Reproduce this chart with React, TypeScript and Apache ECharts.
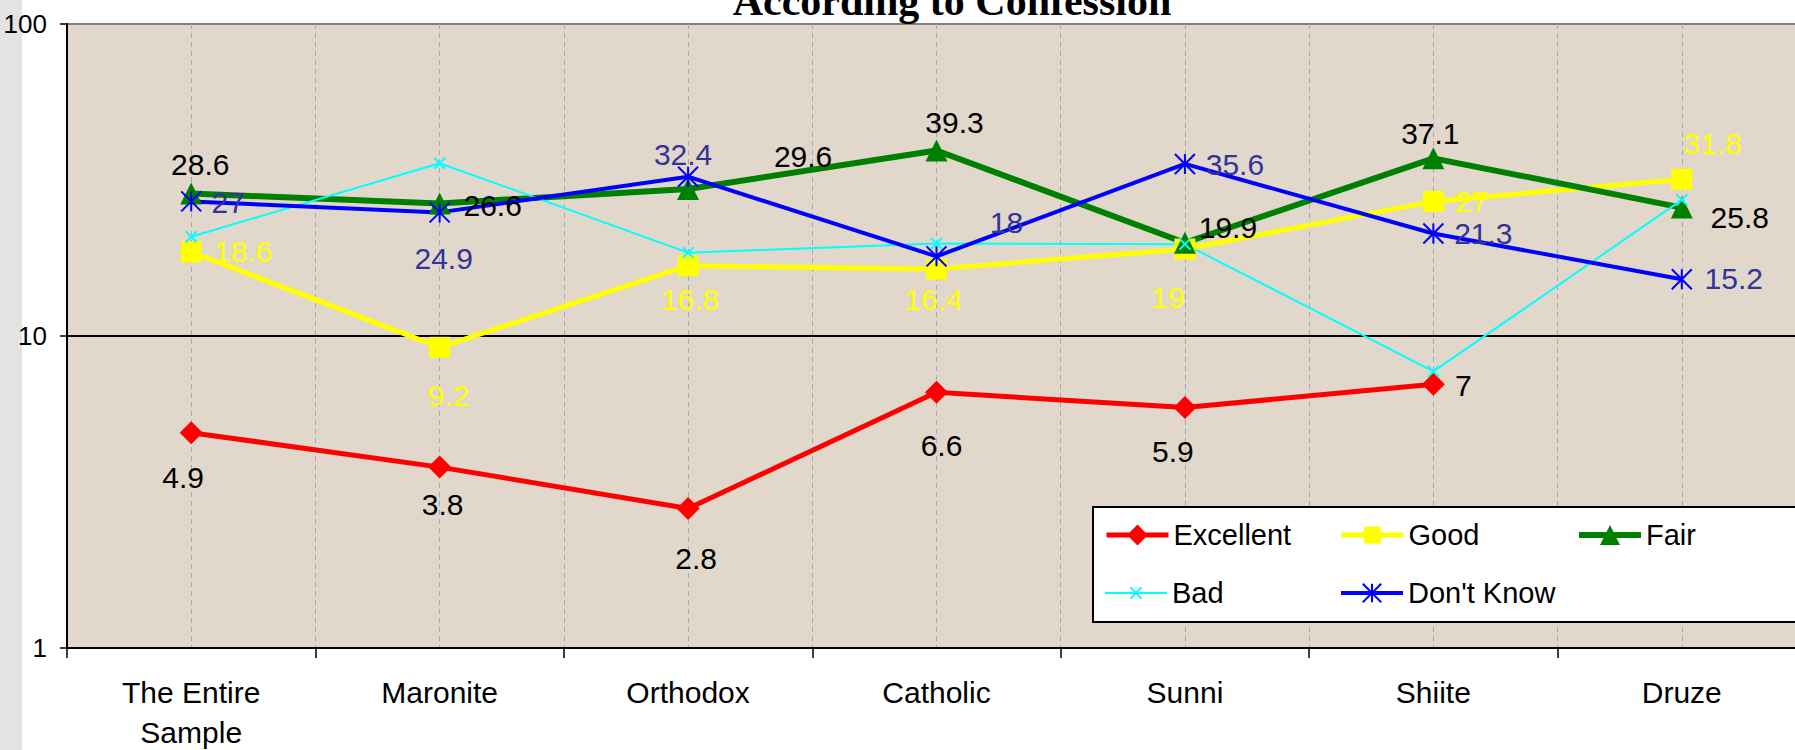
import React, { useEffect, useRef } from "react";
import * as echarts from "echarts";

const categories = ["The Entire\nSample", "Maronite", "Orthodox", "Catholic", "Sunni", "Shiite", "Druze"];
const excellent: (number | null)[] = [4.9, 3.8, 2.8, 6.6, 5.9, 7, null];
const good = [18.6, 9.2, 16.8, 16.4, 19, 27, 31.8];
const fair = [28.6, 26.6, 29.6, 39.3, 19.9, 37.1, 25.8];
const bad = [20.8, 35.8, 18.5, 19.8, 19.7, 7.7, 27.3];
const dontKnow = [27, 24.9, 32.4, 18, 35.6, 21.3, 15.2];
const yTicks = [1, 10, 100];

// label offsets (label centre relative to the marker centre), styling only
type Off = [number, number] | null;
const excellentLbl: Off[] = [[-8, 45], [3, 37], [8, 50], [5, 53], [-12, 44], [30, 1], null];
const goodLbl: Off[] = [[52, 0], [9, 48], [2, 34], [-3, 31], [-17, 48], [38, 0], [31, -36]];
const fairLbl: Off[] = [[9, -29], [53, 2], [115, -32], [18, -28], [43, -15], [-3, -25], [58, 10]];
const dkLbl: Off[] = [[37, 1], [4, 46], [-5, -22], [70, -34], [50, 1], [50, 0], [52, -1]];

const FONT = 'Arial, "Liberation Sans", sans-serif';

function withLabels(values: (number | null)[], offs: Off[]) {
  return values.map((v, i) => {
    if (v == null) return "-";
    const o = offs[i];
    return {
      value: v,
      label: o ? { show: true, position: "inside", offset: o } : { show: false },
    };
  });
}

function labelStyle(color: string) {
  return {
    show: true,
    color,
    fontSize: 30,
    fontFamily: FONT,
    textBorderWidth: 0,
    align: "center",
    verticalAlign: "middle",
  };
}

export default function App() {
  const ref = useRef<HTMLDivElement>(null);
  useEffect(() => {
    document.body.style.margin = "0";
    const chart = echarts.init(ref.current!, null, { renderer: "svg" });
    const legendText = { fontSize: 29, lineHeight: 29, color: "#000", fontFamily: FONT };
    const legendBase = {
      orient: "horizontal",
      padding: 0,
      itemWidth: 62,
      textStyle: legendText,
      selectedMode: false,
      lineStyle: { width: "inherit" },
    };
    const row1 = 535;
    const row2 = 593;
    const leg = (name: string, left: number, center: number, h: number) => ({
      ...legendBase,
      data: [name],
      left,
      top: center - 14.5,
      itemHeight: h,
    });
    chart.setOption({
      animation: false,
      backgroundColor: "transparent",
      grid: {
        left: 67,
        top: 24,
        width: 1739,
        height: 624,
        show: true,
        backgroundColor: "#E1D8CB",
        borderWidth: 0,
        containLabel: false,
        outerBoundsMode: "none",
      },
      legend: [
        leg("Excellent", 1104, row1, 26),
        leg("Good", 1339, row1, 21),
        leg("Fair", 1576, row1, 25),
        leg("Bad", 1104, row2, 14),
        leg("Don't Know", 1339, row2, 23),
      ],
      xAxis: [
        {
          type: "category",
          data: categories,
          boundaryGap: true,
          axisLine: { show: true, lineStyle: { color: "#000", width: 2 } },
          axisTick: { show: true, length: 10, inside: false, lineStyle: { color: "#000", width: 1.5 } },
          axisLabel: { interval: 0, fontSize: 30, lineHeight: 40, margin: 24, color: "#000", fontFamily: FONT },
          splitLine: { show: false },
          z: 5,
        },
        {
          type: "value",
          min: 0,
          max: 7,
          interval: 0.5,
          position: "top",
          axisLine: { show: false },
          axisTick: { show: false },
          axisLabel: { show: false },
          splitLine: { show: true, lineStyle: { color: "#A3A9B3", width: 1, type: [5, 4] } },
        },
      ],
      yAxis: {
        type: "log",
        logBase: 10,
        min: yTicks[0],
        max: yTicks[yTicks.length - 1],
        axisLine: { show: true, lineStyle: { color: "#000", width: 2 } },
        axisTick: { show: true, length: 7, inside: false, lineStyle: { color: "#000", width: 1.5 } },
        axisLabel: { fontSize: 26, color: "#000", margin: 20, fontFamily: FONT },
        splitLine: { show: true, lineStyle: { color: ["#000", "#000", "#808080"], width: 2 } },
        minorTick: { show: false },
        minorSplitLine: { show: false },
      },
      series: [
        {
          name: "Excellent",
          type: "line",
          data: withLabels(excellent, excellentLbl),
          symbol: "diamond",
          symbolSize: 23,
          lineStyle: { color: "#FF0000", width: 5 },
          itemStyle: { color: "#FF0000", borderWidth: 0 },
          label: labelStyle("#000"),
          emphasis: { disabled: true },
        },
        {
          name: "Good",
          type: "line",
          data: withLabels(good, goodLbl),
          symbol: "rect",
          symbolSize: 21,
          lineStyle: { color: "#FFFF00", width: 5 },
          itemStyle: { color: "#FFFF00", borderWidth: 0 },
          label: labelStyle("#FFFF00"),
          emphasis: { disabled: true },
        },
        {
          name: "Fair",
          type: "line",
          data: withLabels(fair, fairLbl),
          symbol: "triangle",
          symbolSize: 22,
          lineStyle: { color: "#008000", width: 6 },
          itemStyle: { color: "#008000", borderWidth: 0 },
          label: labelStyle("#000"),
          emphasis: { disabled: true },
        },
        {
          name: "Bad",
          type: "line",
          data: bad,
          symbol: "path://M0,0L10,10M10,0L0,10",
          symbolSize: 11,
          lineStyle: { color: "#00FFFF", width: 2 },
          itemStyle: { color: "#00FFFF", borderColor: "#00FFFF", borderWidth: 2 },
          label: { show: false },
          emphasis: { disabled: true },
        },
        {
          name: "Don't Know",
          type: "line",
          data: withLabels(dontKnow, dkLbl),
          symbol: "path://M5,0L5,10M0,0L10,10M10,0L0,10",
          symbolSize: 20,
          lineStyle: { color: "#0000FF", width: 4 },
          itemStyle: { color: "#0000FF", borderColor: "#0000FF", borderWidth: 2 },
          label: labelStyle("#333399"),
          emphasis: { disabled: true },
        },
      ],
      graphic: [
        {
          type: "rect",
          z: 3,
          shape: { x: 1093, y: 507, width: 720, height: 115 },
          style: { fill: "#FFFFFF", stroke: "#000000", lineWidth: 2 },
        },
        {
          type: "text",
          z: 10,
          x: 952,
          y: 22,
          style: {
            text: "According to Confession",
            font: 'bold 42px "Liberation Serif", "Times New Roman", serif',
            fill: "#000",
            align: "center",
            verticalAlign: "bottom",
          },
        },
      ],
    });
    return () => chart.dispose();
  }, []);
  return (
    <div
      ref={ref}
      style={{
        position: "absolute",
        left: 0,
        top: 0,
        width: 1795,
        height: 750,
        background: "linear-gradient(to right, #E3E3E3 0px, #E3E3E3 22px, #FFFFFF 22px)",
      }}
    />
  );
}
